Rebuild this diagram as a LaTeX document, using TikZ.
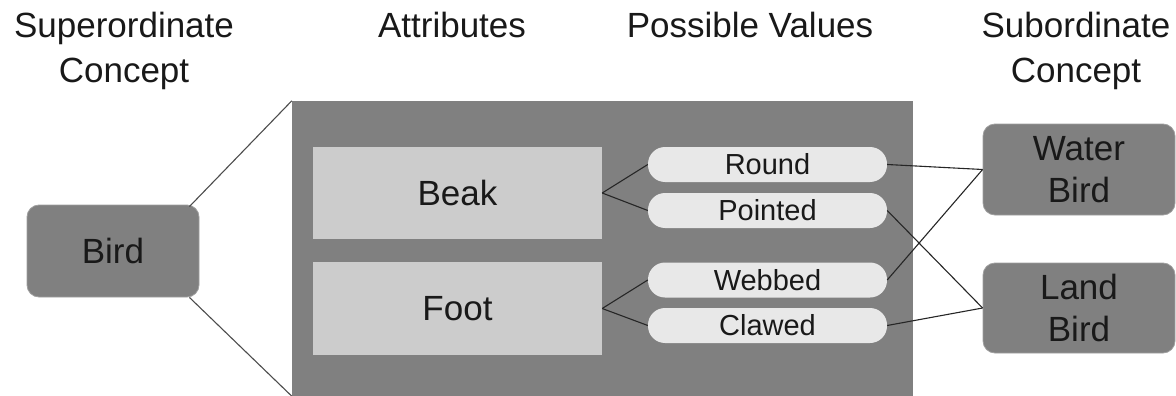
\documentclass[tikz,border=0pt]{standalone}
\usepackage{fontspec}
\setmainfont{Liberation Sans}
\begin{document}
\begin{tikzpicture}[x=1pt,y=-1pt,
  heading/.style={anchor=north,inner sep=0pt,align=center,text=black!90,
    font=\fontsize{35}{45}\selectfont},
  concept/.style={draw=gray!75!white,line width=0.8pt,fill=black!50,rounded corners=12pt,
    inner sep=0pt,align=center,text=black!90,font=\fontsize{35}{42}\selectfont},
  attr/.style={fill=black!20,inner sep=0pt,minimum width=289pt,
    text=black!90,font=\fontsize{35}{42}\selectfont},
  value/.style={fill=black!9,rounded corners=17pt,inner sep=0pt,minimum width=239pt,
    minimum height=35pt,text=black!90,font=\fontsize{29}{35}\selectfont},
  link/.style={draw=black!85,line width=1.1pt}]
\useasboundingbox (0,0) rectangle (1176,396);

% column headings
\node[heading] (hsup) at (124,12) {Superordinate\\Concept};
\node[heading] (hatt) at (452,12) {Attributes};
\node[heading] (hval) at (750,12) {Possible Values};
\node[heading] (hsub) at (1076,12) {Subordinate\\Concept};

% attribute panel
\node[fill=black!50,inner sep=0pt,minimum width=621pt,minimum height=295pt]
  (panel) at (602.5,248.5) {};

% superordinate concept
\node[concept,minimum width=172pt,minimum height=92pt] (bird) at (113,251) {Bird};

% attributes
\node[attr,minimum height=92pt] (beak) at (457.5,193) {Beak};
\node[attr,minimum height=93pt] (foot) at (457.5,308.5) {Foot};

% possible values
\node[value] (round) at (767.5,164.5) {Round};
\node[value] (pointed) at (767.5,210.5) {Pointed};
\node[value] (webbed) at (767.5,280) {Webbed};
\node[value] (clawed) at (767.5,325.5) {Clawed};

% subordinate concepts
\node[concept,minimum width=192pt,minimum height=91pt] (water) at (1079,169.5) {Water\\Bird};
\node[concept,minimum width=192pt,minimum height=90pt] (land) at (1079,308) {Land\\Bird};

% zoom lines from Bird to the panel
\draw[link,draw=black!70] ([xshift=-10pt,yshift=-2pt]bird.north east) -- (panel.north west);
\draw[link,draw=black!70] ([xshift=-10pt]bird.south east) -- (panel.south west);

% attribute to value
\draw[link] (beak.east) -- (round.west);
\draw[link] (beak.east) -- (pointed.west);
\draw[link] (foot.east) -- (webbed.west);
\draw[link] (foot.east) -- (clawed.west);

% value to subordinate concept
\draw[link] (round.east) -- (water.west);
\draw[link] (webbed.east) -- (water.west);
\draw[link] (pointed.east) -- (land.west);
\draw[link] (clawed.east) -- (land.west);
\end{tikzpicture}
\end{document}
